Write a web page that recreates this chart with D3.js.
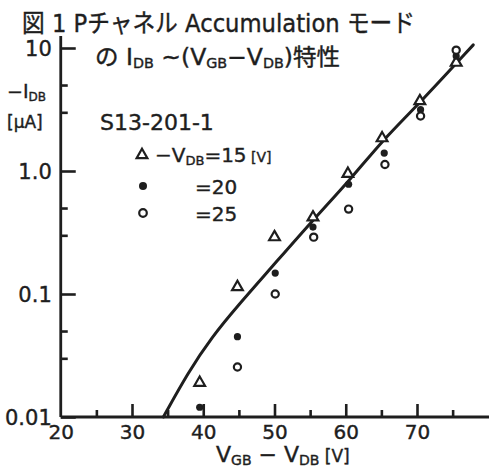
<!DOCTYPE html>
<html>
<head>
<meta charset="utf-8">
<script src="https://cdn.jsdelivr.net/npm/d3@7"></script>
<style>
  body { margin: 0; background: #fff; }
  svg { display: block; }
  text { font-family: "DejaVu Sans", "Noto Sans CJK JP", sans-serif; fill: #1e1e1e; stroke: #1e1e1e; stroke-width: 0.4px; }
  .axis path, .axis line { stroke: #1e1e1e; stroke-width: 2.6; }
</style>
</head>
<body>
<script>
// values
const xMajorTicks = [20, 30, 40, 50, 60, 70];
const xMinorTicks = [25, 35, 45, 55, 65, 75];
const yMajorTicks = [10, 1, 0.1, 0.01];
const yMajorLabels = ["10", "1.0", "0.1", "0.01"];
const yMinorTicks = [5, 3, 0.5, 0.3, 0.05, 0.03];

// -V_DB = 15 V (triangles)
const vdb15X = [39.5, 44.8, 50.0, 55.4, 60.3, 65.1, 70.4, 75.5];
const vdb15Y = [0.019, 0.114, 0.29, 0.42, 0.95, 1.85, 3.7, 7.6];
// -V_DB = 20 V (filled circles)
const vdb20X = [39.5, 44.8, 50.1, 55.4, 60.4, 65.4, 70.5, 75.5];
const vdb20Y = [0.012, 0.045, 0.148, 0.35, 0.78, 1.4, 3.15, 8.6];
// -V_DB = 25 V (open circles)
const vdb25X = [44.8, 50.1, 55.5, 60.4, 65.5, 70.5, 75.5];
const vdb25Y = [0.0255, 0.100, 0.29, 0.49, 1.13, 2.8, 9.6];

// hand drawn fitted curve
const curveX = [34.4, 37.9, 41.2, 44.9, 49.4, 55.4, 60.6, 65.2, 70.4, 77.9];
const curveY = [0.01, 0.0232, 0.0447, 0.081, 0.160, 0.40, 0.845, 1.79, 3.57, 10.6];

const width = 489, height = 468;
const ink = "#1e1e1e";

const svg = d3.select("body").append("svg")
    .attr("width", width)
    .attr("height", height);

const x = d3.scaleLinear().domain([20, 80]).range([60.75, 488.25]);
const y = d3.scaleLog().domain([0.01, 10]).range([417, 48]);

// axis lines
svg.append("line")
    .attr("x1", x(20)).attr("x2", x(20))
    .attr("y1", 36).attr("y2", y(0.01))
    .attr("stroke", ink).attr("stroke-width", 2.8);
svg.append("line")
    .attr("x1", x(20)).attr("x2", 489)
    .attr("y1", y(0.01)).attr("y2", y(0.01))
    .attr("stroke", ink).attr("stroke-width", 2.8);

// y axis: major ticks with labels, minor ticks without
const yAxis = svg.append("g")
    .attr("class", "axis")
    .attr("transform", "translate(" + x(20) + ",0)")
    .call(d3.axisLeft(y)
        .tickValues(yMajorTicks)
        .tickFormat((d, i) => yMajorLabels[i])
        .tickSizeInner(-15)
        .tickSizeOuter(0)
        .tickPadding(9));
yAxis.select(".domain").remove();
yAxis.selectAll("text")
    .style("font-size", "21px")
    .attr("dy", "0.36em");

const yMinor = svg.append("g")
    .attr("class", "axis")
    .attr("transform", "translate(" + x(20) + ",0)")
    .call(d3.axisLeft(y)
        .tickValues(yMinorTicks)
        .tickFormat("")
        .tickSizeInner(-7)
        .tickSizeOuter(0));
yMinor.select(".domain").remove();

// x axis
const xAxis = svg.append("g")
    .attr("class", "axis")
    .attr("transform", "translate(0," + y(0.01) + ")")
    .call(d3.axisBottom(x)
        .tickValues(xMajorTicks)
        .tickFormat(d3.format("d"))
        .tickSizeInner(-13)
        .tickSizeOuter(0)
        .tickPadding(8));
xAxis.select(".domain").remove();
xAxis.selectAll("text").style("font-size", "20px");
xAxis.selectAll(".tick").filter(d => d === 20).select("line").remove();

const xMinor = svg.append("g")
    .attr("class", "axis")
    .attr("transform", "translate(0," + y(0.01) + ")")
    .call(d3.axisBottom(x)
        .tickValues(xMinorTicks)
        .tickFormat("")
        .tickSizeInner(-7)
        .tickSizeOuter(0));
xMinor.select(".domain").remove();

// fitted curve
const curve = curveX.map((v, i) => [v, curveY[i]]);
svg.append("path")
    .datum(curve)
    .attr("fill", "none")
    .attr("stroke", ink)
    .attr("stroke-width", 3)
    .attr("stroke-linecap", "round")
    .attr("d", d3.line()
        .x(d => x(d[0]))
        .y(d => y(d[1]))
        .curve(d3.curveBasis));

// points
const tri = d3.symbol().type(d3.symbolTriangle).size(50);
svg.selectAll(".p15")
    .data(vdb15X.map((v, i) => [v, vdb15Y[i]]))
    .enter().append("path")
    .attr("class", "p15")
    .attr("transform", d => "translate(" + x(d[0]) + "," + y(d[1]) + ")")
    .attr("d", tri)
    .attr("fill", "#fff")
    .attr("stroke", ink)
    .attr("stroke-width", 2.2);

svg.selectAll(".p20")
    .data(vdb20X.map((v, i) => [v, vdb20Y[i]]))
    .enter().append("circle")
    .attr("class", "p20")
    .attr("cx", d => x(d[0]))
    .attr("cy", d => y(d[1]))
    .attr("r", 3.6)
    .attr("fill", ink);

svg.selectAll(".p25")
    .data(vdb25X.map((v, i) => [v, vdb25Y[i]]))
    .enter().append("circle")
    .attr("class", "p25")
    .attr("cx", d => x(d[0]))
    .attr("cy", d => y(d[1]))
    .attr("r", 3.6)
    .attr("fill", "#fff")
    .attr("stroke", ink)
    .attr("stroke-width", 2.2);

// title
svg.append("text")
    .attr("x", 22).attr("y", 32)
    .attr("textLength", 393)
    .attr("lengthAdjust", "spacingAndGlyphs")
    .style("font-size", "25px")
    .text("図 1  Pチャネル Accumulation モード");

const t2 = svg.append("text")
    .attr("x", 95).attr("y", 65)
    .attr("textLength", 245)
    .attr("lengthAdjust", "spacingAndGlyphs")
    .style("font-size", "23px");
t2.append("tspan").text("の I");
t2.append("tspan").attr("dy", 3).style("font-size", "14px").text("DB");
t2.append("tspan").attr("dy", -3).text(" ~(V");
t2.append("tspan").attr("dy", 3).style("font-size", "14px").text("GB");
t2.append("tspan").attr("dy", -3).text("−V");
t2.append("tspan").attr("dy", 3).style("font-size", "14px").text("DB");
t2.append("tspan").attr("dy", -3).text(")特性");

// y axis title
const yt = svg.append("text")
    .attr("x", 7).attr("y", 98)
    .style("font-size", "19px");
yt.append("tspan").text("−I");
yt.append("tspan").attr("dy", 3).style("font-size", "12px").text("DB");
svg.append("text")
    .attr("x", 7).attr("y", 128)
    .style("font-size", "17px")
    .text("[μA]");

// x axis title
const xt = svg.append("text")
    .attr("x", 216).attr("y", 462)
    .style("font-size", "22px");
xt.append("tspan").text("V");
xt.append("tspan").attr("dy", 3).style("font-size", "14px").text("GB");
xt.append("tspan").attr("dy", -3).text(" − V");
xt.append("tspan").attr("dy", 3).style("font-size", "14px").text("DB");
xt.append("tspan").attr("dy", -3).style("font-size", "17px").text(" [V]");

// sample name and legend
svg.append("text")
    .attr("x", 100).attr("y", 130)
    .style("font-size", "22px")
    .text("S13-201-1");

svg.append("path")
    .attr("transform", "translate(142,155)")
    .attr("d", tri)
    .attr("fill", "#fff")
    .attr("stroke", ink)
    .attr("stroke-width", 2.2);
const l1 = svg.append("text")
    .attr("x", 155).attr("y", 162)
    .style("font-size", "20px");
l1.append("tspan").text("−V");
l1.append("tspan").attr("dy", 3).style("font-size", "13px").text("DB");
l1.append("tspan").attr("dy", -3).text("=15");
l1.append("tspan").style("font-size", "14px").text(" [V]");

svg.append("circle")
    .attr("cx", 143).attr("cy", 186).attr("r", 4)
    .attr("fill", ink);
svg.append("text")
    .attr("x", 195).attr("y", 194)
    .style("font-size", "20px")
    .text("=20");

svg.append("circle")
    .attr("cx", 143).attr("cy", 213).attr("r", 3.8)
    .attr("fill", "#fff").attr("stroke", ink).attr("stroke-width", 2.2);
svg.append("text")
    .attr("x", 195).attr("y", 221)
    .style("font-size", "20px")
    .text("=25");
</script>
</body>
</html>
